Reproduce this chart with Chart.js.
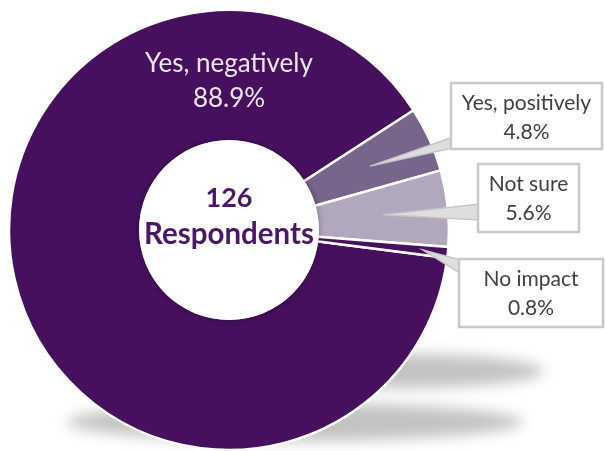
<!DOCTYPE html>
<html>
<head>
<meta charset="utf-8">
<script src="https://cdn.jsdelivr.net/npm/chart.js@4/dist/chart.umd.min.js"></script>
<style>
  html, body { margin: 0; padding: 0; background: #ffffff; }
  #wrap { width: 605px; height: 451px; }
</style>
</head>
<body>
<div id="wrap"><canvas id="c" width="605" height="451"></canvas></div>
<script>
// Survey answers: did it have an impact?
const categories = ['Yes, negatively', 'Yes, positively', 'Not sure', 'No impact'];
const shares = [88.9, 4.8, 5.6, 0.8];          // percent of respondents
const respondents = 126;

const sliceColors = ['#46105f', '#78658b', '#b2a8be', '#46105f'];
const FONT = 'Lato, "Open Sans", sans-serif';

// Callout layout for the three small answers (box: x, y, w, h; base: y-range on the box's left edge)
const callouts = [
  { index: 1, box: [451, 83, 151, 66], base: [137, 148], tipR: 155 },
  { index: 2, box: [478, 164, 101, 68], base: [204, 220], tipR: 155 },
  { index: 3, box: [459, 259, 144, 68], base: [260, 274], tipR: 195 }
];

const pct = v => v.toFixed(1) + '%';

function arcPoint(arc, r) {
  const a = (arc.startAngle + arc.endAngle) / 2;
  return { x: arc.x + Math.cos(a) * r, y: arc.y + Math.sin(a) * r };
}

function drawLines(ctx, lines, x, y0, gap) {
  lines.forEach((t, i) => ctx.fillText(t, x, y0 + i * gap));
}

const decorations = {
  id: 'decorations',
  beforeDatasetsDraw(chart) {
    const arc = chart.getDatasetMeta(0).data[0];
    const cx = arc.x, cy = arc.y;
    const ctx = chart.ctx;
    ctx.save();
    ctx.filter = 'blur(7px)';
    ctx.fillStyle = 'rgba(170,170,170,0.7)';
    ctx.beginPath();
    ctx.ellipse(cx + 66, cy + 192, 228, 19, 0, 0, Math.PI * 2);
    ctx.fill();
    ctx.beginPath();
    ctx.ellipse(cx + 170, cy + 141, 145, 17, 0, 0, Math.PI * 2);
    ctx.fill();
    ctx.restore();
  },
  afterDatasetsDraw(chart) {
    const meta = chart.getDatasetMeta(0);
    const arc0 = meta.data[0];
    const cx = arc0.x, cy = arc0.y;
    const ctx = chart.ctx;

    // white disc in the hole with a soft rim
    ctx.save();
    ctx.shadowColor = 'rgba(0,0,0,0.35)';
    ctx.shadowBlur = 6;
    ctx.fillStyle = '#ffffff';
    ctx.beginPath();
    ctx.arc(cx, cy, 90, 0, Math.PI * 2);
    ctx.fill();
    ctx.restore();

    // centre text
    ctx.save();
    ctx.fillStyle = '#4b1768';
    ctx.textAlign = 'center';
    ctx.textBaseline = 'middle';
    ctx.font = 'bold 27px ' + FONT;
    ctx.fillText(String(respondents), cx, cy - 32);
    ctx.font = 'bold 29.5px ' + FONT;
    ctx.fillText('Respondents', cx, cy + 4);
    ctx.restore();

    // label inside the big slice
    ctx.save();
    ctx.fillStyle = '#ece6f1';
    ctx.textAlign = 'center';
    ctx.textBaseline = 'middle';
    ctx.font = '26px ' + FONT;
    drawLines(ctx, [categories[0], pct(shares[0])], cx, cy - 166, 35);
    ctx.restore();

    // callouts
    callouts.forEach(c => {
      const arc = meta.data[c.index];
      const tip = arcPoint(arc, c.tipR);
      const [bx, by, bw, bh] = c.box;
      ctx.save();
      ctx.beginPath();
      ctx.moveTo(tip.x, tip.y);
      ctx.lineTo(bx + 2, c.base[0]);
      ctx.lineTo(bx + 2, c.base[1]);
      ctx.closePath();
      ctx.fillStyle = '#dedede';
      ctx.fill();
      ctx.strokeStyle = '#c6c6c6';
      ctx.lineWidth = 1.5;
      ctx.stroke();

      ctx.fillStyle = '#ffffff';
      ctx.fillRect(bx, by, bw, bh);
      ctx.strokeStyle = '#c8c8c8';
      ctx.lineWidth = 2.5;
      ctx.strokeRect(bx, by, bw, bh);

      ctx.fillStyle = '#404040';
      ctx.textAlign = 'center';
      ctx.textBaseline = 'middle';
      ctx.font = '21px ' + FONT;
      drawLines(ctx, [categories[c.index], pct(shares[c.index])], bx + bw / 2, by + 20, 29);
      ctx.restore();
    });
  }
};

new Chart(document.getElementById('c'), {
  type: 'doughnut',
  data: {
    labels: categories,
    datasets: [{
      data: shares,
      backgroundColor: sliceColors,
      borderColor: '#ffffff',
      borderWidth: 2.5,
      hoverOffset: 0
    }]
  },
  options: {
    responsive: false,
    animation: false,
    rotation: 97.3,
    radius: 220,
    cutout: 88,
    layout: { padding: { left: 9, top: 10, right: 156, bottom: 1 } },
    plugins: {
      legend: { display: false },
      tooltip: { enabled: false }
    }
  },
  plugins: [decorations]
});
</script>
</body>
</html>
